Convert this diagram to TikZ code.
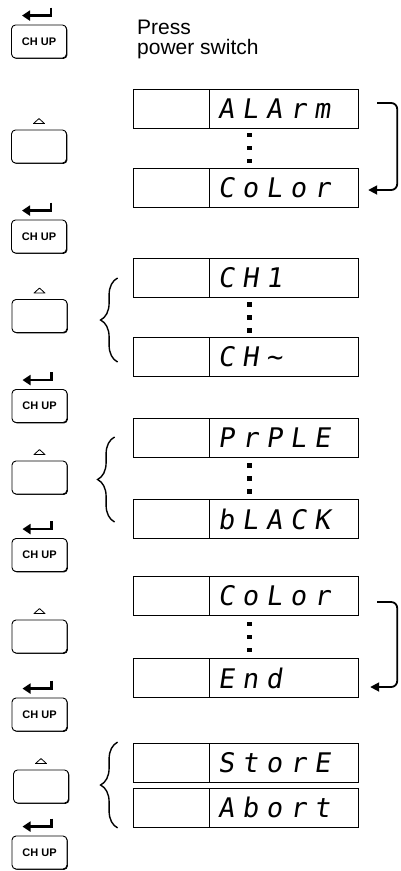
\documentclass[tikz,border=0pt]{standalone}
\usepackage{fontspec}
\setmainfont{Liberation Sans}
\newfontfamily\segfont[FakeSlant=0.15]{DejaVu Sans Mono}
\usetikzlibrary{positioning, calc, arrows.meta, shadows, decorations.pathreplacing}
\newcommand{\segword}[1]{\foreach \c in {#1}{\makebox[24pt][l]{\c}}}
\tikzset{
    keybox/.style={rectangle, rounded corners=4pt, draw, line width=0.9pt, fill=white, minimum width=55pt, minimum height=33pt, inner sep=0pt, drop shadow={shadow xshift=0.9pt, shadow yshift=-0.9pt, fill=black, opacity=1}},
    chupkey/.style={keybox, font=\fontsize{11}{13}\selectfont\bfseries},
    upkey/.style={keybox},
    uptri/.style={line width=0.8pt, line join=round},
    dispblank/.style={rectangle, draw, line width=0.8pt, minimum width=76pt, minimum height=39pt, inner sep=0pt},
    dispseg/.style={rectangle, draw, line width=0.8pt, text width=133pt, inner xsep=8pt, inner ysep=0pt, minimum height=39pt, align=left, font=\segfont\fontsize{27}{27}\selectfont},
    enter/.style={line width=2.4pt, -{Triangle[length=8pt,width=10pt]}},
    looparrow/.style={line width=1.8pt, rounded corners=6pt, -{Triangle[length=9pt,width=9pt]}},
    bracket/.style={decorate, decoration={brace, amplitude=17pt}, line width=1.4pt}
}

\begin{document}
\begin{tikzpicture}[x=1pt, y=-1pt]
    \useasboundingbox (0,0) rectangle (401,871);
    % keys on the left
    \node (k1) [chupkey] at (39,41.5) {CH UP};
    \node (u1) [upkey] at (39,146.5) {};
    \node (k2) [chupkey] at (39,236.5) {CH UP};
    \node (u2) [upkey] at (39.5,316) {};
    \node (k3) [chupkey] at (39.5,406) {CH UP};
    \node (u3) [upkey] at (39.5,477.5) {};
    \node (k4) [chupkey] at (39.5,555) {CH UP};
    \node (u4) [upkey] at (39.5,636.5) {};
    \node (k5) [chupkey] at (39.5,714.5) {CH UP};
    \node (u5) [upkey] at (41,786.5) {};
    \node (k6) [chupkey] at (39.5,852.5) {CH UP};
    \foreach \k in {k1,k2,k3,k4,k5,k6}
        \draw[enter] ($(\k.north)+(12,-17)$) |- ++(-29,8);
    \foreach \u in {u1,u2,u3,u4,u5}
        \draw[uptri] ($(\u.north)+(-5.5,-6)$) -- ++(11,0) -- ++(-5.5,-5) -- cycle;

    \node (txt) [anchor=north west, align=left, inner sep=0pt, font=\fontsize{21}{19.5}\selectfont] at (137,20) {Press\\power switch};

    % displays
    \node (l1) [dispblank] at (171,108.5) {};
    \node (d1) [dispseg, right=0pt of l1] {\segword{A,L,A,r,m}};
    \node (l2) [dispblank] at (171,187.5) {};
    \node (d2) [dispseg, right=0pt of l2] {\segword{C,o,L,o,r}};
    \node (l3) [dispblank] at (171,278) {};
    \node (d3) [dispseg, right=0pt of l3] {\segword{C,H,1}};
    \node (l4) [dispblank] at (171,356.5) {};
    \node (d4) [dispseg, right=0pt of l4] {\segword{C,H,\textasciitilde}};
    \node (l5) [dispblank] at (171,438) {};
    \node (d5) [dispseg, right=0pt of l5] {\segword{P,r,P,L,E}};
    \node (l6) [dispblank] at (171,519) {};
    \node (d6) [dispseg, right=0pt of l6] {\segword{b,L,A,C,K}};
    \node (l7) [dispblank] at (171,596) {};
    \node (d7) [dispseg, right=0pt of l7] {\segword{C,o,L,o,r}};
    \node (l8) [dispblank] at (171,678) {};
    \node (d8) [dispseg, right=0pt of l8] {\segword{E,n,d}};
    \node (l9) [dispblank] at (171,762.5) {};
    \node (d9) [dispseg, right=0pt of l9] {\segword{S,t,o,r,E}};
    \node (l10) [dispblank] at (171,807.5) {};
    \node (d10) [dispseg, right=0pt of l10] {\segword{A,b,o,r,t}};

    % dots between displays
    \foreach \a/\b in {d1/d2, d3/d4, d5/d6, d7/d8}
        \foreach \dy in {-13,0,13}
            \fill ($(\a.south west)!0.5!(\b.north west)+(38,\dy-2.3)$) rectangle ++(4.6,4.6);

    % loops and braces
    \draw[looparrow] ($(d1.east)+(18,-5.5)$) -- ++(20,0) |- ($(d2.east)+(9,2.5)$);
    \draw[looparrow] ($(d7.east)+(18,6)$) -- ++(20,0) |- ($(d8.east)+(11,9)$);
    \draw[bracket] ($(l4.west)+(-15,5.5)$) -- ($(l3.west)+(-15,0)$);
    \draw[bracket] ($(l6.west)+(-18,3)$) -- ($(l5.west)+(-18,-1)$);
    \draw[bracket] ($(l10.south west)+(-15,0.5)$) -- ($(l9.north west)+(-15,-0.5)$);
\end{tikzpicture}
\end{document}
